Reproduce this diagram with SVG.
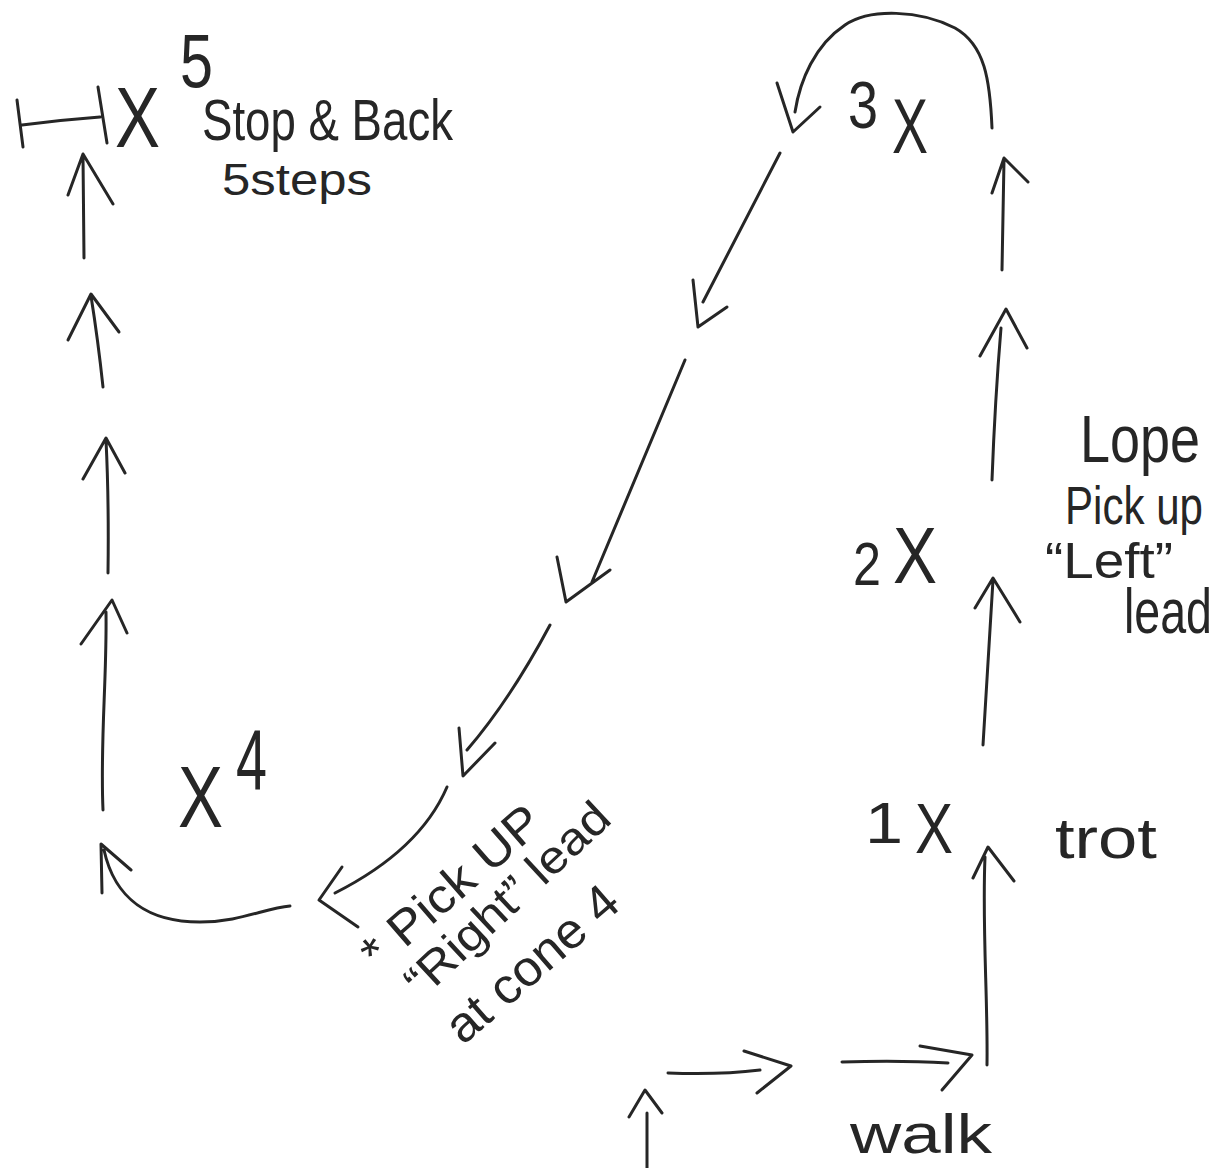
<svg xmlns="http://www.w3.org/2000/svg" width="1225" height="1168" viewBox="0 0 1225 1168">
<style>
.s{fill:none;stroke:#262626;stroke-width:3;stroke-linecap:round;stroke-linejoin:round}
.t{font-family:"Liberation Sans","DejaVu Sans",sans-serif;fill:#262626}
</style>
<rect width="1225" height="1168" fill="#ffffff"/>
<g id="stop-marker">
<path class="s" d="M17,100 L23,147 M22,125 Q60,120 100,117 M98,87 L107,143"/>
<text class="t" x="115" y="147" font-size="86" textLength="45" lengthAdjust="spacingAndGlyphs">X</text>
<text class="t" x="180" y="87" font-size="76" textLength="33" lengthAdjust="spacingAndGlyphs">5</text>
<text class="t" x="202" y="140" font-size="58" textLength="251" lengthAdjust="spacingAndGlyphs">Stop &amp; Back</text>
<text class="t" x="222" y="195" font-size="44" textLength="150" lengthAdjust="spacingAndGlyphs">5steps</text>
</g>
<g id="label-3x">
<text class="t" font-size="66"><tspan x="848" y="128" textLength="30" lengthAdjust="spacingAndGlyphs">3</tspan><tspan x="892" y="153" font-size="78" textLength="36" lengthAdjust="spacingAndGlyphs">X</tspan></text>
</g>
<g id="label-2x">
<text class="t" font-size="62"><tspan x="853" y="585" textLength="28" lengthAdjust="spacingAndGlyphs">2</tspan><tspan x="893" y="583" font-size="80" textLength="44" lengthAdjust="spacingAndGlyphs">X</tspan></text>
</g>
<g id="label-lope">
<text class="t" x="1080" y="462" font-size="66" textLength="120" lengthAdjust="spacingAndGlyphs">Lope</text>
<text class="t" transform="translate(1065,524) scale(1,1.15)" font-size="46" textLength="138" lengthAdjust="spacingAndGlyphs">Pick up</text>
<text class="t" x="1045" y="578" font-size="50" textLength="128" lengthAdjust="spacingAndGlyphs">“Left”</text>
<text class="t" transform="translate(1124,633) scale(1,1.25)" font-size="50" textLength="88" lengthAdjust="spacingAndGlyphs">lead</text>
</g>
<g id="label-1x">
<text class="t" font-size="57"><tspan x="865" y="843" textLength="38" lengthAdjust="spacingAndGlyphs">1</tspan><tspan x="915" y="853" font-size="70" textLength="38" lengthAdjust="spacingAndGlyphs">X</tspan></text>
</g>
<g id="label-trot">
<text class="t" x="1055" y="858" font-size="58" textLength="102" lengthAdjust="spacingAndGlyphs">trot</text>
</g>
<g id="label-walk">
<text class="t" x="850" y="1153" font-size="56" textLength="142" lengthAdjust="spacingAndGlyphs">walk</text>
</g>
<g id="label-x4">
<text class="t"><tspan x="178" y="827" font-size="88" textLength="45" lengthAdjust="spacingAndGlyphs">X</tspan><tspan x="236" y="789" font-size="86" textLength="31" lengthAdjust="spacingAndGlyphs">4</tspan></text>
</g>
<g id="label-right-lead">
<text class="t" font-size="48" transform="translate(378,972) rotate(-41)" textLength="222" lengthAdjust="spacingAndGlyphs">* Pick UP</text>
<text class="t" font-size="46" transform="translate(422,1000) rotate(-43)" textLength="262" lengthAdjust="spacingAndGlyphs">“Right” lead</text>
<text class="t" font-size="50" transform="translate(463,1046) rotate(-41)" textLength="212" lengthAdjust="spacingAndGlyphs">at cone 4</text>
</g>
<g id="connectors">
<path class="s" d="M68,195 L83,154 L113,204 M83,156 L84,258"/>
<path class="s" d="M68,340 L91,294 L119,332 M91,296 Q98,340 103,387"/>
<path class="s" d="M83,479 L106,438 L125,473 M106,440 Q109,500 108,573"/>
<path class="s" d="M81,644 L112,600 L127,633 M106,612 C107,680 100,740 103,810"/>
<path class="s" d="M102,893 L101,844 L131,870 M104,850 C115,900 150,922 200,922 C240,922 265,908 290,906"/>
<path class="s" d="M992,128 C990,80 985,45 955,28 C920,10 870,8 845,25 C815,45 800,80 795,112 M777,83 L793,132 L820,107"/>
<path class="s" d="M992,193 L1004,158 L1028,182 M1004,160 L1002,270"/>
<path class="s" d="M980,356 L1006,309 L1027,348 M1001,328 Q995,400 992,480"/>
<path class="s" d="M975,608 L993,578 L1020,622 M993,580 L983,745"/>
<path class="s" d="M973,878 L988,847 L1014,881 M985,857 C982,927 988,1000 987,1065"/>
<path class="s" d="M668,1073 Q720,1075 760,1070 M744,1051 L791,1066 L757,1093"/>
<path class="s" d="M842,1062 Q900,1060 948,1063 M920,1046 L972,1055 L942,1090"/>
<path class="s" d="M629,1117 L645,1090 L662,1113 M647,1113 L647,1168"/>
<path class="s" d="M780,153 L703,302 M693,280 L698,327 L727,307"/>
<path class="s" d="M685,360 L592,582 M557,557 L566,602 L610,570"/>
<path class="s" d="M550,625 Q510,700 467,750 M459,728 L463,776 L495,743"/>
<path class="s" d="M447,787 Q420,850 335,893 M342,867 L319,900 L358,927"/>
</g>
</svg>
